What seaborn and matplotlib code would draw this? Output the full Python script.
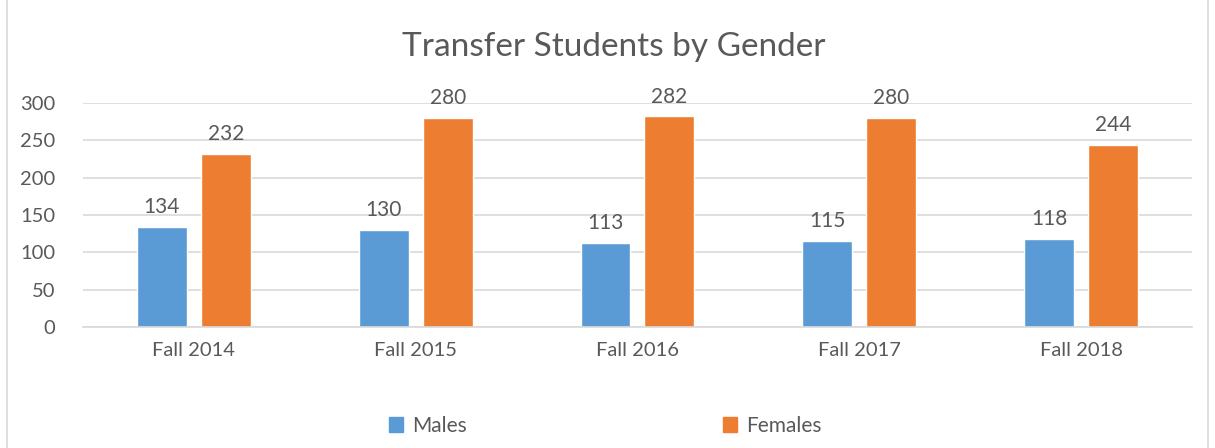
import matplotlib
matplotlib.use("Agg")
import matplotlib.pyplot as plt
import pandas as pd
import seaborn as sns
from matplotlib.patches import Rectangle

terms = ["Fall 2014", "Fall 2015", "Fall 2016", "Fall 2017", "Fall 2018"]
males = [134, 130, 113, 115, 118]
females = [232, 280, 282, 280, 244]

df = pd.DataFrame({
    "Term": terms * 2,
    "Count": males + females,
    "Gender": ["Males"] * len(terms) + ["Females"] * len(terms),
})

sns.set_theme(style="white")
plt.rcParams["font.family"] = ["Lato", "DejaVu Sans"]
text_col = "#595959"

fig = plt.figure(figsize=(12.15, 4.48), dpi=100)
ax = fig.add_axes([0.0683, 0.270, 0.9127, 0.500])

sns.barplot(data=df, x="Term", y="Count", hue="Gender",
            palette={"Males": "#5B9BD5", "Females": "#ED7D31"}, saturation=1,
            width=0.577, gap=0.22, ax=ax, legend=False)

for c in ax.containers:
    ax.bar_label(c, padding=7, fontsize=15, color=text_col)

ax.set_xlim(-0.5, 4.5)
ax.set_ylim(0, 300)
ax.set_yticks(range(0, 301, 50))
ax.yaxis.grid(True, color="#D9D9D9", linewidth=1.2)
ax.set_axisbelow(True)
for s in ["top", "right", "left"]:
    ax.spines[s].set_visible(False)
ax.spines["bottom"].set_color("#D9D9D9")
ax.spines["bottom"].set_linewidth(1.2)
ax.tick_params(axis="both", length=0, labelsize=14.5, labelcolor=text_col)
ax.tick_params(axis="x", pad=11)
ax.tick_params(axis="y", pad=20)
ax.set_xlabel("")
ax.set_ylabel("")

fig.text(0.505, 0.895, "Transfer Students by Gender", ha="center", va="center",
         fontsize=24, color=text_col)

handles = [Rectangle((0, 0), 1, 1, color="#5B9BD5"),
           Rectangle((0, 0), 1, 1, color="#ED7D31")]
fig.legend(handles, ["Males", "Females"], loc="center", bbox_to_anchor=(0.498, 0.05),
           ncol=2, frameon=False, fontsize=15, labelcolor=text_col,
           handlelength=0.7, handleheight=0.7, handletextpad=0.4, columnspacing=12.3)

fig.patches.append(Rectangle((0.006, -0.01), 0.988, 1.02, transform=fig.transFigure,
                             fill=False, edgecolor="#D9D9D9", linewidth=1.2))

fig.savefig("out.png", dpi=100)
